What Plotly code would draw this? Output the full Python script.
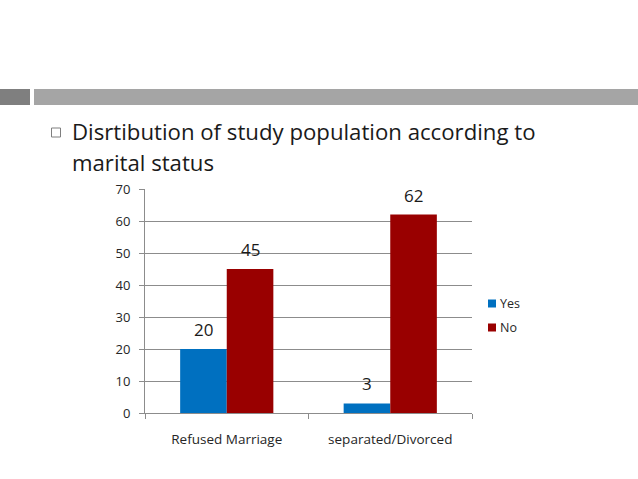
import plotly.graph_objects as go

categories = ["Refused Marriage", "separated/Divorced"]
series_names = ["Yes", "No"]
yes_values = [20, 3]
no_values = [45, 62]
colors = ["#0070C0", "#990000"]
y_ticks = [0, 10, 20, 30, 40, 50, 60, 70]
title_lines = ["Disrtibution of study population according to", "marital status"]

W, H = 638, 479
L, R, T, B = 145, 472, 189, 413
pw, ph = R - L, B - T

def px(x):
    return (x - L) / pw

def py(y):
    return (B - y) / ph

FONT = "Open Sans"

fig = go.Figure()
for name, vals, col in zip(series_names, [yes_values, no_values], colors):
    fig.add_trace(go.Bar(x=categories, y=vals, name=name, marker_color=col,
                         marker_line_width=0, showlegend=False))

# data labels
offsets = [-23.5, 23.5]
for vals, off in zip([yes_values, no_values], offsets):
    for c, v in zip(categories, vals):
        fig.add_annotation(x=c, y=v, text=str(v), showarrow=False, xref="x", yref="y",
                           xshift=off, yshift=6, yanchor="bottom",
                           font=dict(family=FONT, size=17, color="#1a1a1a"))

shapes = []
# header bars
shapes.append(dict(type="rect", xref="paper", yref="paper", x0=px(0), x1=px(30), y0=py(105), y1=py(89),
                   fillcolor="#7f7f7f", line_width=0, layer="above"))
shapes.append(dict(type="rect", xref="paper", yref="paper", x0=px(34), x1=px(638), y0=py(105), y1=py(89),
                   fillcolor="#a5a5a5", line_width=0, layer="above"))
# bullet square
shapes.append(dict(type="rect", xref="paper", yref="paper", x0=px(51.5), x1=px(60.5), y0=py(137), y1=py(128),
                   fillcolor="white", line=dict(color="#7f7f7f", width=1)))
# manual legend
leg_y = [303.5, 327.5]
for name, col, yy in zip(series_names, colors, leg_y):
    shapes.append(dict(type="rect", xref="paper", yref="paper", x0=px(488), x1=px(496),
                       y0=py(yy + 4), y1=py(yy - 4), fillcolor=col, line_width=0))
    fig.add_annotation(x=px(498), y=py(yy), xref="paper", yref="paper", text=name, showarrow=False,
                       xanchor="left", yanchor="middle", font=dict(family=FONT, size=12.5, color="#262626"))

title_y = [131, 162]
for line, yy in zip(title_lines, title_y):
    fig.add_annotation(x=px(70), y=py(yy), xref="paper", yref="paper", text=line, showarrow=False,
                       xanchor="left", yanchor="middle", font=dict(family=FONT, size=22.2, color="#1a1a1a"))

fig.update_layout(
    width=W, height=H,
    margin=dict(l=L, r=W - R, t=T, b=H - B, pad=0),
    paper_bgcolor="white", plot_bgcolor="white",
    barmode="group", bargap=0.43, bargroupgap=0,
    shapes=shapes,
    showlegend=False,
    font=dict(family=FONT, size=12.5, color="#262626"),
)
fig.update_yaxes(range=[0, 70], tickvals=y_ticks, showgrid=True, gridcolor="#8c8c8c", gridwidth=1,
                 showline=True, linecolor="#8c8c8c", linewidth=1, ticks="outside", ticklen=5,
                 tickcolor="#8c8c8c", zeroline=False, tickfont=dict(size=13, color="#262626"),
                 ticklabelstandoff=6)
fig.update_xaxes(showline=True, linecolor="#8c8c8c", linewidth=1, ticks="outside", ticklen=5,
                 tickcolor="#8c8c8c", tickson="boundaries", tickfont=dict(size=13.5, color="#262626"),
                 ticklabelstandoff=14)

fig.write_html("out.html", config={"displayModeBar": False},
               post_script="document.body.style.margin='0';")
